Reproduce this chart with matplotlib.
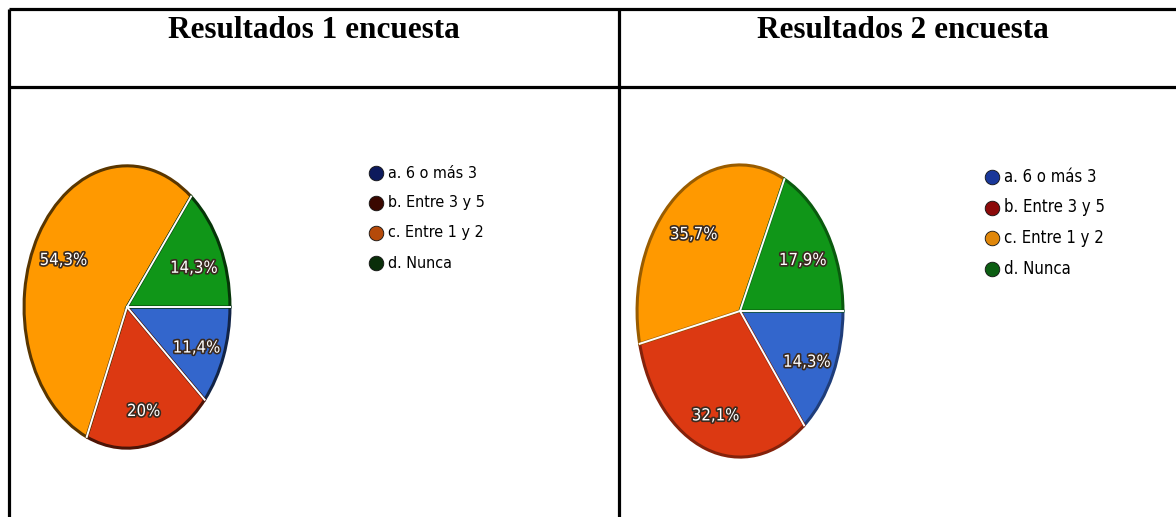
import matplotlib
matplotlib.use("Agg")
import matplotlib.pyplot as plt
import matplotlib.patheffects as pe
import numpy as np

# datos de las dos encuestas (porcentajes)
categorias = ["a. 6 o más 3", "b. Entre 3 y 5", "c. Entre 1 y 2", "d. Nunca"]
encuesta1 = [11.4, 20.0, 54.3, 14.3]
encuesta2 = [14.3, 32.1, 35.7, 17.9]
titulos = ["Resultados 1 encuesta", "Resultados 2 encuesta"]

colores = ["#3366cc", "#dc3912", "#ff9900", "#109618"]
leyenda1 = ["#0d1a5c", "#3a0800", "#b54a0a", "#0a2e0a"]
leyenda2 = ["#1a3799", "#8c0a0a", "#e0870a", "#0c5e12"]

NARROW = ["Liberation Sans Narrow", "DejaVu Sans"]
W, H = 1176, 517

fig = plt.figure(figsize=(W / 100, H / 100), dpi=100)
fig.patch.set_facecolor("white")

# capa en pixeles para la tabla, titulos y leyendas
bg = fig.add_axes([0, 0, 1, 1])
bg.set_xlim(0, W)
bg.set_ylim(H, 0)
bg.axis("off")

lw = 2.3
bg.plot([9, W], [9, 9], color="black", lw=lw, solid_capstyle="butt")
bg.plot([9, W], [87, 87], color="black", lw=lw, solid_capstyle="butt")
bg.plot([9, 9], [9, H], color="black", lw=lw, solid_capstyle="butt")
bg.plot([619, 619], [9, H], color="black", lw=lw, solid_capstyle="butt")

for t, cx in zip(titulos, [314, 903]):
    bg.text(cx, 30, t, ha="center", va="center", fontsize=22.5, fontweight="bold",
            family=["Liberation Serif", "DejaVu Serif"])


def fmt(p):
    s = f"{p:.1f}".replace(".", ",")
    return (s[:-2] if s.endswith(",0") else s) + "%"


def dibujar_pie(rect, valores, oscuro):
    ax = fig.add_axes(rect)
    wedges, _, autotexts = ax.pie(
        valores, colors=colores, startangle=0, counterclock=False,
        autopct=fmt, pctdistance=0.72,
        wedgeprops=dict(linewidth=2.2, edgecolor="none"),
        textprops=dict(color="white", fontsize=12, family=NARROW, fontstretch="condensed"),
    )
    for w, c in zip(wedges, colores):
        rgb = np.array(matplotlib.colors.to_rgb(c)) * oscuro
        w.set_edgecolor(rgb)
    for w in wedges:
        a = np.deg2rad(w.theta1)
        ax.plot([0, np.cos(a)], [0, np.sin(a)], color="white", lw=1.4, zorder=5)
    for t in autotexts:
        x, y = t.get_position()
        t.set_position((x, y - 0.035))
        t.set_path_effects([pe.withStroke(linewidth=2.4, foreground="#3a2a20")])
        t.set_zorder(6)
    ax.set_aspect("auto")
    ax.set_xlim(-1.02, 1.02)
    ax.set_ylim(-1.02, 1.02)
    return ax


def px_rect(x0, y0, x1, y1):
    return [x0 / W, (H - y1) / H, (x1 - x0) / W, (y1 - y0) / H]


dibujar_pie(px_rect(22, 163, 232, 451), encuesta1, 0.35)
dibujar_pie(px_rect(635, 162, 845, 460), encuesta2, 0.6)


def leyenda(x, y0, paso, cols, fs):
    for i, (lab, c) in enumerate(zip(categorias, cols)):
        y = y0 + i * paso
        bg.plot(x, y, marker="o", ms=10.5, color=c, mec="#111111", mew=0.6)
        bg.text(x + 12, y, lab, ha="left", va="center", fontsize=fs, family=NARROW,
                fontstretch="condensed")


leyenda(376, 173, 30, leyenda1, 11.5)
leyenda(992, 177, 30.5, leyenda2, 12)

fig.savefig("out.png", dpi=100, facecolor="white")
